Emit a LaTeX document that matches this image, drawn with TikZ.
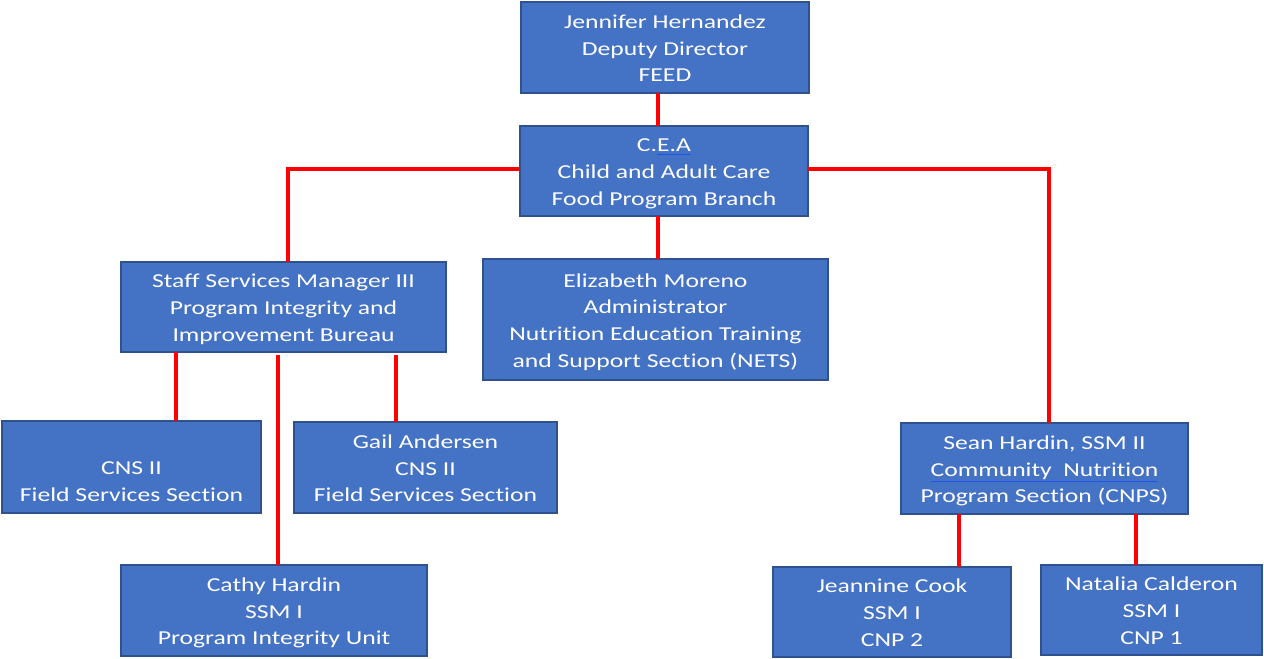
\documentclass[tikz,border=0pt]{standalone}
\usepackage{fontspec}
\setmainfont[Ligatures=NoCommon]{Carlito}
\usepackage{graphicx}
\definecolor{boxblue}{HTML}{4472C4}
\definecolor{boxedge}{HTML}{2F528F}
\definecolor{ulblue}{HTML}{1E56E6}
\newcommand\sxt[1]{\raisebox{-1.7pt}[\height][\depth]{\scalebox{1.30}[1]{\begin{tabular}{@{}c@{}}#1\end{tabular}}}}
\newcommand\bul[1]{{\color{ulblue}\underline{\color{white}#1}}}
\newcommand\orgbox[6]{\node[box, minimum width={(#4-#2)*0.75pt}, minimum height={(#5-#3)*0.75pt}] (#1) at ({(#2+#4)/2},{(#3+#5)/2}) {\sxt{#6}};}
\begin{document}
\begin{tikzpicture}[x=0.75pt,y=-0.75pt,
  box/.style={draw=boxedge, line width=1.1pt, fill=boxblue, text=white, inner sep=0pt, outer sep=0pt, font=\fontsize{14.8}{20}\selectfont},
  conn/.style={draw=red, line width=2.3pt}]
\useasboundingbox (0,0) rectangle (1264,659);
\orgbox{jh}{521}{2}{809}{93}{Jennifer Hernandez\\Deputy Director\\FEED}
\orgbox{cea}{520}{126}{808}{216}{C.\bul{E.A}\\Child and Adult Care\\Food Program Branch}
\orgbox{ssm}{121}{262}{446}{352}{Staff Services Manager III\\Program Integrity and\\Improvement Bureau}
\orgbox{em}{483}{259}{828}{380}{Elizabeth Moreno\\Administrator\\Nutrition Education Training\\and Support Section (NETS)}
\orgbox{cnsl}{2}{421}{261}{513}{\mbox{}\\CNS II\\Field Services Section}
\orgbox{gail}{294}{422}{557}{513}{Gail Andersen\\CNS II\\Field Services Section}
\orgbox{cathy}{121}{565}{427}{656}{Cathy Hardin\\SSM I\\Program Integrity Unit}
\orgbox{sean}{901}{423}{1188}{514}{Sean Hardin, SSM II\\\bul{Community\ \ Nutrition}\\Program Section (CNPS)}
\orgbox{jc}{773}{567}{1011}{657}{Jeannine Cook\\SSM I\\CNP 2}
\orgbox{nc}{1041}{565}{1262}{655}{Natalia Calderon\\SSM I\\CNP 1}
\coordinate (xa) at (658,0);
\coordinate (kL) at (288,169);
\coordinate (kR) at (1049,169);
\coordinate (xb) at (176,0);
\coordinate (xc) at (278,355);
\coordinate (xd) at (396,355);
\coordinate (xe) at (959,0);
\coordinate (xf) at (1136,0);
\draw[conn] (jh.south -| xa) -- (cea.north -| xa);
\draw[conn] (cea.south -| xa) -- (em.north -| xa);
\draw[conn] (cea.west |- kL) -| (ssm.north -| kL);
\draw[conn] (cea.east |- kR) -| (sean.north -| kR);
\draw[conn] (ssm.south -| xb) -- (cnsl.north -| xb);
\draw[conn] (xc) -- (cathy.north -| xc);
\draw[conn] (xd) -- (gail.north -| xd);
\draw[conn] (sean.south -| xe) -- (jc.north -| xe);
\draw[conn] (sean.south -| xf) -- (nc.north -| xf);
\end{tikzpicture}
\end{document}
